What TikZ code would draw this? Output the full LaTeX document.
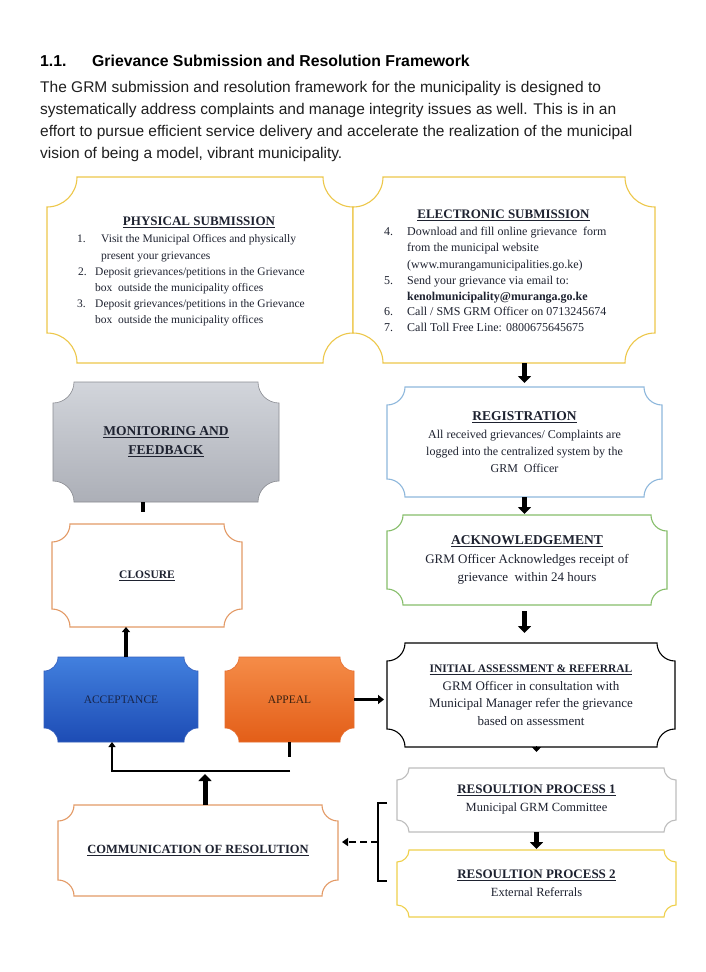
\documentclass[tikz,border=0pt]{standalone}
\usepackage{fontspec}
\setmainfont{Liberation Serif}
\newfontfamily\parafont{Liberation Sans}
\usetikzlibrary{arrows.meta,backgrounds,calc}
\definecolor{ylw}{HTML}{EDC74A}
\definecolor{regblue}{HTML}{8EB8DC}
\definecolor{ackgreen}{HTML}{86BE6A}
\definecolor{orng}{HTML}{E39A66}
\definecolor{gryb}{HTML}{BDBDBD}
\definecolor{ylw2}{HTML}{EFD04C}
\definecolor{montop}{HTML}{D2D5DB}
\definecolor{monbot}{HTML}{ACAFB7}
\definecolor{acctop}{HTML}{4280DE}
\definecolor{accbot}{HTML}{1D4CB5}
\definecolor{apptop}{HTML}{F58C48}
\definecolor{appbot}{HTML}{E35E18}
\definecolor{ink}{HTML}{1E2230}
\definecolor{navy}{HTML}{18254A}
\definecolor{brownink}{HTML}{3A2212}
\newcommand\plq[3][]{%
  \path[#1] ($(#2.north west)+(#3pt,0)$) -- ($(#2.north east)+(-#3pt,0)$)
    arc[start angle=180,end angle=270,radius=#3pt] -- ($(#2.south east)+(0,#3pt)$)
    arc[start angle=90,end angle=180,radius=#3pt] -- ($(#2.south west)+(#3pt,0)$)
    arc[start angle=0,end angle=90,radius=#3pt] -- ($(#2.north west)+(0,-#3pt)$)
    arc[start angle=270,end angle=360,radius=#3pt] -- cycle;}
\tikzset{
  box/.style={inner sep=0pt, outer sep=0pt, align=center, text=ink},
  para/.style={anchor=base west, inner sep=0pt, font=\parafont\fontsize{15.5}{22}\selectfont, text=black!88},
  ttl/.style={anchor=base, inner sep=0pt, text=ink, font=\bfseries\fontsize{13}{16}\selectfont},
  lphys/.style={anchor=base west, inner sep=0pt, text=ink, font=\fontsize{11.5}{16}\selectfont},
  lelec/.style={anchor=base west, inner sep=0pt, text=ink, font=\fontsize{12}{16}\selectfont},
  blk/.style={line width=5pt, -{Triangle[width=13pt,length=7pt]}},
  conn/.style={line width=2.5pt},
  bdr/.style={line width=1.1pt}
}
\begin{document}
\begin{tikzpicture}[x=1pt,y=1pt]
\useasboundingbox (0,0) rectangle (706,-972);

% heading and paragraph
\node[anchor=base west, inner sep=0pt, font=\parafont\bfseries\fontsize{15.8}{18}\selectfont] (hnum) at (40,-66) {1.1.};
\node[anchor=base west, inner sep=0pt, font=\parafont\bfseries\fontsize{15.8}{18}\selectfont] (htitle) at (92,-66) {Grievance Submission and Resolution Framework};
\node[para] (l1) at (40,-92) {The GRM submission and resolution framework for the municipality is designed to};
\node[para] (l2) at (40,-114) {systematically address complaints and manage integrity issues as well. This is in an};
\node[para] (l3) at (40,-136) {effort to pursue efficient service delivery and accelerate the realization of the municipal};
\node[para] (l4) at (40,-158) {vision of being a model, vibrant municipality.};

% boxes
\node[box, minimum width=306pt, minimum height=186pt] (phys) at (200,-270) {};
\node[box, minimum width=302pt, minimum height=186pt] (elec) at (504,-270) {};
\node[box, minimum width=226pt, minimum height=120pt, font=\bfseries\fontsize{13.5}{19}\selectfont] (mon) at (166,-442) {\underline{MONITORING AND}\\\underline{FEEDBACK}};
\node[box, minimum width=275pt, minimum height=110pt, font=\fontsize{12}{17}\selectfont] (reg) at (524.5,-442)
  {{\bfseries\fontsize{13.5}{17}\selectfont\underline{REGISTRATION}}\\[1pt]All received grievances/ Complaints are\\logged into the centralized system by the\\GRM\ \ Officer};
\node[box, minimum width=190pt, minimum height=103pt, font=\bfseries\fontsize{11.5}{14}\selectfont] (clos) at (147,-575.5) {\underline{CLOSURE}};
\node[box, minimum width=280pt, minimum height=90pt, font=\fontsize{13}{18}\selectfont] (ack) at (527,-560)
  {{\bfseries\fontsize{13.5}{17}\selectfont\underline{ACKNOWLEDGEMENT}}\\[1pt]GRM Officer Acknowledges receipt of\\grievance\ \ within 24 hours};
\node[box, minimum width=154pt, minimum height=85pt, font=\fontsize{11.5}{14}\selectfont, text=navy] (acc) at (121,-699.5) {ACCEPTANCE};
\node[box, minimum width=129pt, minimum height=85pt, font=\fontsize{11.5}{14}\selectfont, text=brownink] (app) at (289.5,-699.5) {APPEAL};
\node[box, minimum width=288pt, minimum height=104pt, font=\fontsize{13}{17.5}\selectfont] (init) at (531,-695)
  {{\bfseries\fontsize{11.5}{17}\selectfont\underline{INITIAL ASSESSMENT \& REFERRAL}}\\GRM Officer in consultation with\\Municipal Manager refer the grievance\\based on assessment};
\node[box, minimum width=279pt, minimum height=64pt, font=\fontsize{12.5}{18}\selectfont] (res1) at (536.5,-800)
  {{\bfseries\fontsize{13}{17}\selectfont\underline{RESOULTION PROCESS 1}}\\Municipal GRM Committee};
\node[box, minimum width=279pt, minimum height=67pt, font=\fontsize{12.5}{18}\selectfont] (res2) at (536.5,-883.5)
  {{\bfseries\fontsize{13}{17}\selectfont\underline{RESOULTION PROCESS 2}}\\External Referrals};
\node[box, minimum width=280pt, minimum height=91pt, font=\bfseries\fontsize{12.5}{16}\selectfont] (comm) at (198,-850.5) {\underline{COMMUNICATION OF RESOLUTION}};

% physical submission text
\node[ttl] (ptitle) at (199,-225.5) {\underline{PHYSICAL SUBMISSION}};
\node[lphys] (pn1) at (77,-242.5) {1.};
\node[lphys] (pt1) at (101,-242.5) {Visit the Municipal Offices and physically};
\node[lphys] (pt1b) at (101,-259.5) {present your grievances};
\node[lphys] (pn2) at (78,-275.5) {2.};
\node[lphys] (pt2) at (95,-275.5) {Deposit grievances/petitions in the Grievance};
\node[lphys] (pt2b) at (95,-291.5) {box\ \ outside the municipality offices};
\node[lphys] (pn3) at (77,-307.5) {3.};
\node[lphys] (pt3) at (95,-307.5) {Deposit grievances/petitions in the Grievance};
\node[lphys] (pt3b) at (95,-323.5) {box\ \ outside the municipality offices};

% electronic submission text
\node[ttl] (etitle) at (503.5,-218.5) {\underline{ELECTRONIC SUBMISSION}};
\node[lelec] (en4) at (384,-235.5) {4.};
\node[lelec] (et4) at (407,-235.5) {Download and fill online grievance\ \ form};
\node[lelec] (et4b) at (407,-251.5) {from the municipal website};
\node[lelec] (et4c) at (407,-268) {(www.murangamunicipalities.go.ke)};
\node[lelec] (en5) at (384,-284) {5.};
\node[lelec] (et5) at (407,-284) {Send your grievance via email to:};
\node[lelec, font=\bfseries\fontsize{12}{16}\selectfont] (et5b) at (407,-300) {kenolmunicipality@muranga.go.ke};
\node[lelec] (en6) at (384,-315.5) {6.};
\node[lelec] (et6) at (407,-315.5) {Call / SMS GRM Officer on 0713245674};
\node[lelec] (en7) at (384,-331.5) {7.};
\node[lelec] (et7) at (407,-331.5) {Call Toll Free Line: 0800675645675};

% plaque shapes
\begin{scope}[on background layer]
  \fill[white] (0,0) rectangle (706,-972);
  \plq[draw=ylw, bdr, fill=white]{phys}{30}
  \plq[draw=ylw, bdr, fill=white]{elec}{30}
  \plq[draw=monbot!80!black, line width=0.6pt, top color=montop, bottom color=monbot]{mon}{21}
  \plq[draw=regblue, bdr, fill=white]{reg}{18}
  \plq[draw=orng, bdr, fill=white]{clos}{18}
  \plq[draw=ackgreen, bdr, fill=white]{ack}{16}
  \plq[draw=accbot!90!white, line width=0.6pt, top color=acctop, bottom color=accbot]{acc}{14}
  \plq[draw=appbot!90!white, line width=0.6pt, top color=apptop, bottom color=appbot]{app}{14}
  \plq[draw=black, bdr, fill=white]{init}{18}
  \plq[draw=gryb, bdr, fill=white]{res1}{12}
  \plq[draw=ylw2, bdr, fill=white]{res2}{12}
  \plq[draw=orng, bdr, fill=white]{comm}{16}
\end{scope}

% connectors
\draw[blk, shorten >=4pt] (reg.north |- elec.south) -- (reg.north);
\draw[blk, shorten >=1pt] (reg.south) -- (reg.south |- ack.north);
\draw[blk, shorten <=6pt, shorten >=10pt] (reg.south |- ack.south) -- (reg.south |- init.north);
\draw[line width=1pt, -{Triangle[width=9pt,length=5pt]}] ($(res1.north |- init.south)+(0,1)$) -- ++(0,-6);
\draw[blk, shorten >=1pt] (res1.south) -- (res1.north |- res2.north);
\draw[line width=3pt, -{Triangle[width=9pt,length=6pt]}, shorten >=3pt] (app.east) -- (app.east -| init.west);
\draw[conn] (app.south) -- ++(0,-15);
\coordinate (j1) at (290,-771);
\coordinate (j2) at (112,-771);
\draw[conn, -{Triangle[width=7pt,length=5pt]}] (j1) -- (j2) -- (j2 |- acc.south);
\coordinate (j3) at (205,-772);
\draw[blk, shorten >=2pt] (comm.north -| j3) -- (j3);
\coordinate (j4) at (126,-640);
\draw[line width=3.5pt, -{Triangle[width=8pt,length=5pt]}] (acc.north -| j4) -- (clos.south -| j4);
\coordinate (j5) at (143,-512);
\draw[line width=4pt] (mon.south -| j5) -- (j5);
% bracket
\coordinate (bt) at ($(res1.west)+(-10,-3)$);
\coordinate (bb) at ($(res2.west)+(-10,2.5)$);
\draw[line width=2pt] (bt) -- ++(-9,0) |- (bb);
\coordinate (brk) at ($(bt)!0.5!(bb)+(-9,0)$);
\draw[line width=2.5pt, dash pattern=on 7pt off 4pt, -{Triangle[width=8pt,length=6pt]}, shorten >=4pt] (brk) -- (brk -| comm.east);
\end{tikzpicture}
\end{document}
